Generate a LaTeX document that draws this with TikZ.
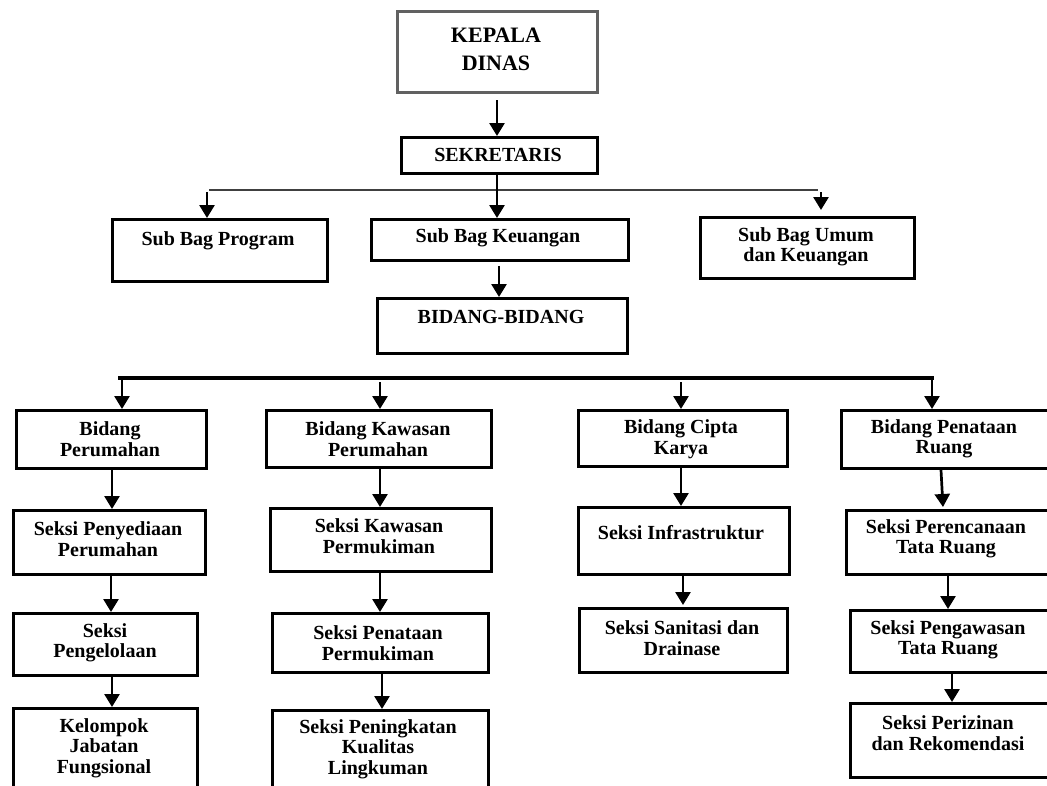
\documentclass[tikz,border=0pt]{standalone}
\usepackage{fontspec}
\setmainfont{Liberation Serif}
\usetikzlibrary{arrows.meta}
\begin{document}
\begin{tikzpicture}[x=1pt,y=-1pt,
  boxst/.style={draw=black, line width=2.8pt, rectangle, inner sep=0pt, anchor=north west},
  txt/.style={font=\bfseries\fontsize{20}{20.5}\selectfont, align=center, inner sep=0pt},
  arr/.style={line width=2.7pt, -{Triangle[width=15pt,length=13pt]}},
  thinln/.style={line width=1.5pt, draw=black!75},
  thickln/.style={line width=4.5pt, line cap=rect}]
\useasboundingbox (0,0) rectangle (1047,785);
\clip (0,0) rectangle (1047,785);
% boxes
\node[boxst, draw=black!62, line width=3.2pt, minimum width=200pt, minimum height=81pt] (kep) at (396,10) {};
\node[txt, font=\bfseries\fontsize{22}{28}\selectfont] (kept) at (496,49) {KEPALA\\DINAS};
\node[boxst, minimum width=196pt, minimum height=36pt] (sek) at (400,136) {};
\node[txt] (sekt) at (498,155) {SEKRETARIS};
\node[boxst, minimum width=215pt, minimum height=62pt] (sbp) at (111,218) {};
\node[txt] (sbpt) at (218,241) {Sub Bag Program};
\node[boxst, minimum width=257pt, minimum height=41pt] (sbk) at (370,218) {};
\node[txt] (sbkt) at (498,238) {Sub Bag Keuangan};
\node[boxst, minimum width=214pt, minimum height=61pt] (sbu) at (699,216) {};
\node[txt] (sbut) at (806,247) {Sub Bag Umum\\dan Keuangan};
\node[boxst, minimum width=250pt, minimum height=55pt] (bb) at (376,297) {};
\node[txt] (bbt) at (501,317) {BIDANG-BIDANG};
% row 1
\node[boxst, minimum width=190pt, minimum height=58pt] (b1) at (15,409) {};
\node[txt] (b1t) at (110,439) {Bidang\\Perumahan};
\node[boxst, minimum width=225pt, minimum height=57pt] (b2) at (265,409) {};
\node[txt] (b2t) at (378,439) {Bidang Kawasan\\Perumahan};
\node[boxst, minimum width=209pt, minimum height=56pt] (b3) at (577,409) {};
\node[txt] (b3t) at (681,439) {Bidang Cipta\\Karya};
\node[boxst, minimum width=215pt, minimum height=58pt] (b4) at (840,409) {};
\node[txt] (b4t) at (944,439) {Bidang Penataan\\Ruang};
% row 2
\node[boxst, minimum width=192pt, minimum height=64pt] (r21) at (12,509) {};
\node[txt] (r21t) at (108,539) {Seksi Penyediaan\\Perumahan};
\node[boxst, minimum width=221pt, minimum height=63pt] (r22) at (269,507) {};
\node[txt] (r22t) at (379,536) {Seksi Kawasan\\Permukiman};
\node[boxst, minimum width=211pt, minimum height=67pt] (r23) at (577,506) {};
\node[txt] (r23t) at (681,533) {Seksi Infrastruktur};
\node[boxst, minimum width=210pt, minimum height=64pt] (r24) at (845,509) {};
\node[txt] (r24t) at (946,539) {Seksi Perencanaan\\Tata Ruang};
% row 3
\node[boxst, minimum width=184pt, minimum height=62pt] (r31) at (12,612) {};
\node[txt] (r31t) at (105,643) {Seksi\\Pengelolaan};
\node[boxst, minimum width=216pt, minimum height=59pt] (r32) at (271,612) {};
\node[txt] (r32t) at (378,643) {Seksi Penataan\\Permukiman};
\node[boxst, minimum width=208pt, minimum height=64pt] (r33) at (578,607) {};
\node[txt] (r33t) at (682,638) {Seksi Sanitasi dan\\Drainase};
\node[boxst, minimum width=206pt, minimum height=62pt] (r34) at (849,609) {};
\node[txt] (r34t) at (948,640) {Seksi Pengawasan\\Tata Ruang};
% row 4
\node[boxst, minimum width=184pt, minimum height=100pt] (r41) at (12,707) {};
\node[txt] (r41t) at (104,748) {Kelompok\\Jabatan\\Fungsional};
\node[boxst, minimum width=216pt, minimum height=100pt] (r42) at (271,709) {};
\node[txt] (r42t) at (378,749) {Seksi Peningkatan\\Kualitas\\Lingkuman};
\node[boxst, minimum width=206pt, minimum height=74pt] (r44) at (849,702) {};
\node[txt] (r44t) at (948,733) {Seksi Perizinan\\dan Rekomendasi};
% connector points
\coordinate (sl) at (209,190);
\coordinate (sr) at (818,190);
\coordinate (tl) at (120,378);
\coordinate (tr) at (932,378);
% connectors
\draw[arr] (kep.south -| 497,0) ++(0,6) -- (sek.north -| 497,0);
\draw[thinln] (sl) -- (sr);
\draw[arr] (sek.south -| 497,0) -- (sbk.north -| 497,0);
\draw[arr] (207,192) -- (sbp.north -| 207,0);
\draw[arr] (821,192) -- (821,210);
\draw[arr] (sbk.south -| 499,0) ++(0,4) -- (bb.north -| 499,0);
\draw[thickln] (tl) -- (tr);
\draw[arr] (122,378) -- (b1.north -| 122,0);
\draw[arr] (380,382) -- (b2.north -| 380,0);
\draw[arr] (681,382) -- (b3.north -| 681,0);
\draw[arr] (932,378) -- (b4.north -| 932,0);
\draw[arr] (112,470) -- (r21.north -| 112,0);
\draw[arr] (380,467) -- (r22.north -| 380,0);
\draw[arr] (681,467) -- (r23.north -| 681,0);
\draw[arr] (941,470) -- (943,507);
\draw[arr] (111,575) -- (r31.north -| 111,0);
\draw[arr] (380,571) -- (r32.north -| 380,0);
\draw[arr] (683,575) -- (683,605);
\draw[arr] (948,575) -- (r34.north -| 948,0);
\draw[arr] (112,677) -- (r41.north -| 112,0);
\draw[arr] (382,674) -- (r42.north -| 382,0);
\draw[arr] (952,674) -- (r44.north -| 952,0);
\end{tikzpicture}
\end{document}
